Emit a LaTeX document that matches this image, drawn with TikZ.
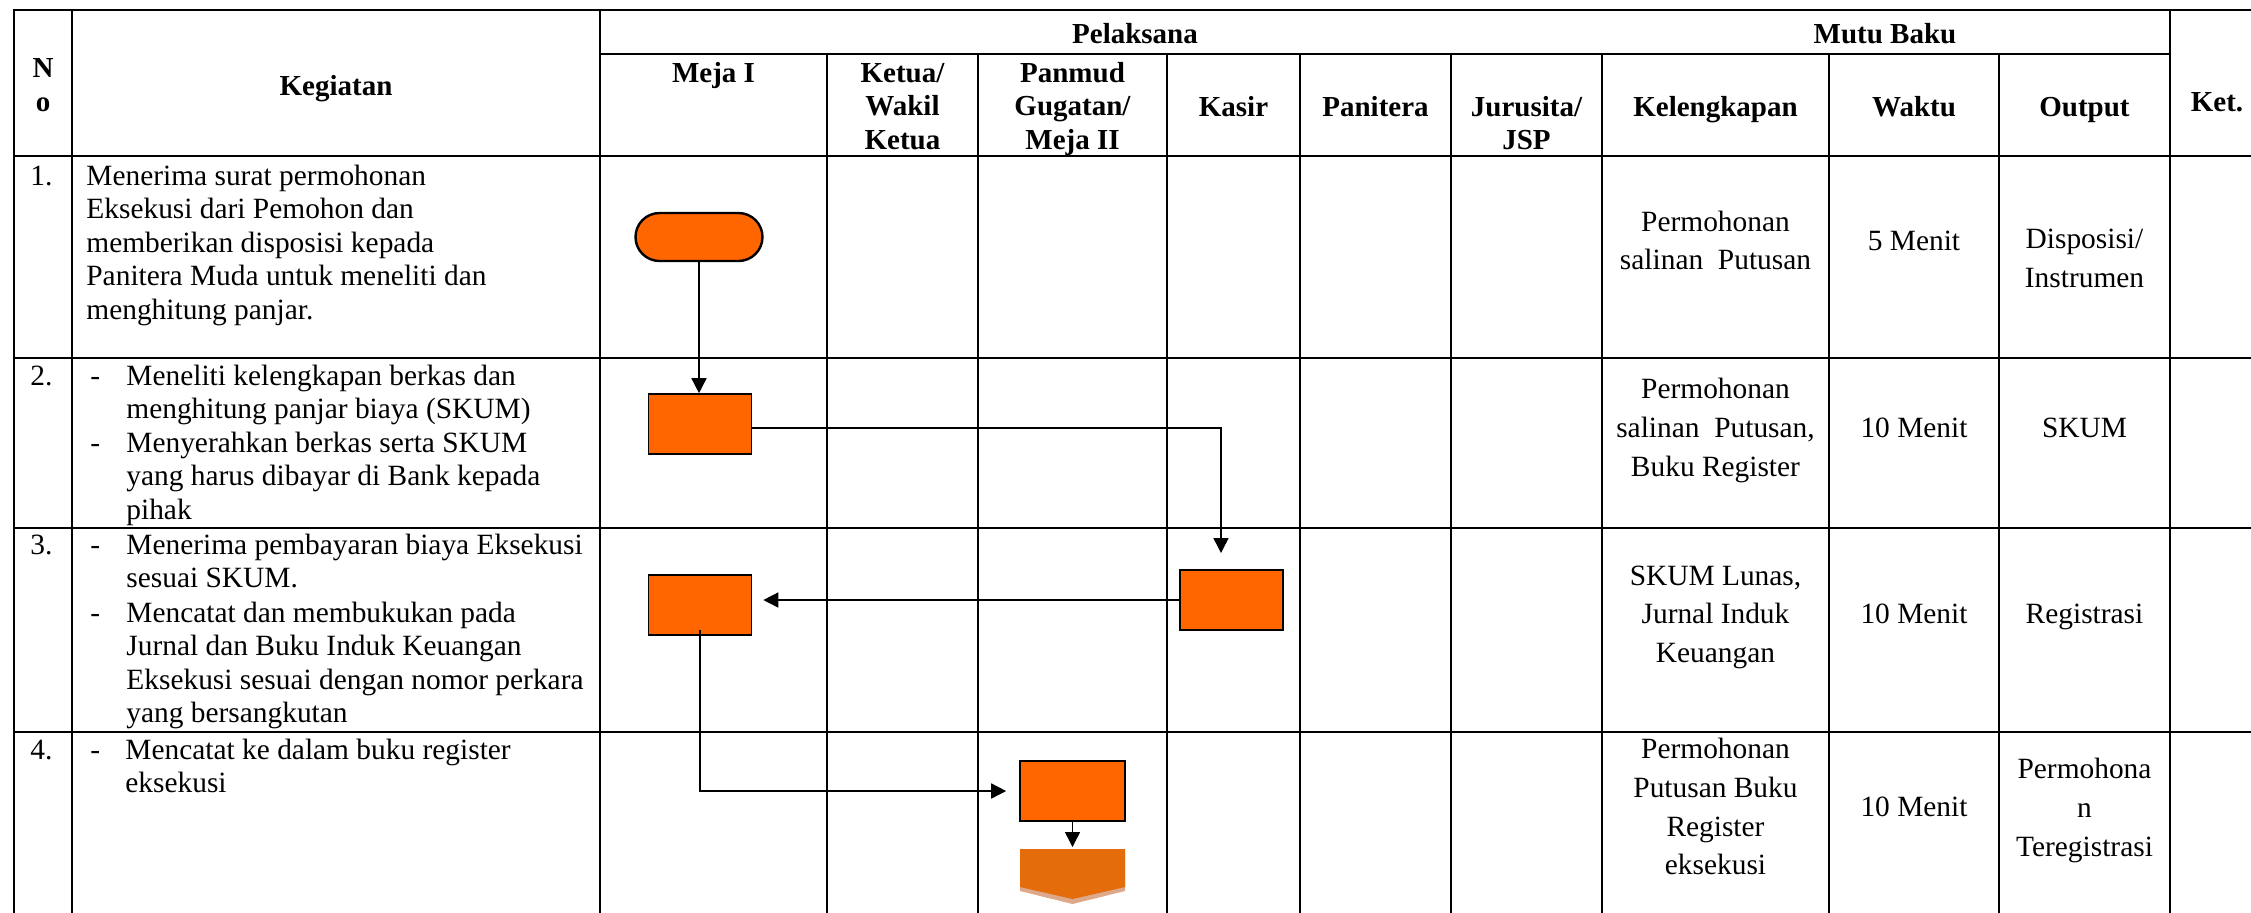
\documentclass[tikz,border=0pt]{standalone}
\usepackage{fontspec}
\setmainfont{Liberation Serif}
\usepackage{xcolor}
\usepackage{tikz}
\usetikzlibrary{arrows.meta}

\definecolor{boxorange}{HTML}{FF6600}
\definecolor{pageorange}{HTML}{E46C0A}
\definecolor{pageshadow}{HTML}{DDA98A}

\begin{document}
\begin{tikzpicture}[
  x=0.5pt,y=-0.5pt,
  grid/.style={line width=1pt,line cap=rect},
  txt/.style={font=\fontsize{14.7}{16.7}\selectfont,inner sep=0pt,anchor=base west,align=left},
  head/.style={font=\bfseries\fontsize{14.5}{16.75}\selectfont,inner sep=0pt,anchor=base,align=center},
  mutu/.style={font=\fontsize{14.7}{19.4}\selectfont,inner sep=0pt,anchor=base,align=center},
  proc/.style={rectangle,draw=black,line width=0.8pt,fill=boxorange,minimum width=51.5pt,minimum height=30pt,inner sep=0pt},
  term/.style={proc,rounded corners=12pt,line width=1.2pt,minimum width=63.5pt,minimum height=24pt},
  flow/.style={-{Triangle[length=7.5pt,width=7.5pt]},line width=0.75pt}
]
  \useasboundingbox (0,0) rectangle (2251,912);

  % Table grid
  \draw[grid] (14,10) -- (2251,10);
  \draw[grid] (600,54) -- (2170,54);
  \draw[grid] (14,156) -- (2251,156) (14,358) -- (2251,358)
              (14,528) -- (2251,528) (14,732) -- (2251,732);
  \draw[grid] (14,10) -- (14,912) (72,10) -- (72,912)
              (600,10) -- (600,912) (2170,10) -- (2170,912);
  \draw[grid] (827,54) -- (827,912) (978,54) -- (978,912)
              (1167,54) -- (1167,912) (1300,54) -- (1300,912)
              (1451,54) -- (1451,912) (1602,54) -- (1602,912)
              (1829,54) -- (1829,912) (1999,54) -- (1999,912);

  % Header (multi-line nodes sit on their last baseline)
  \node[head] (hno) at (43,111) {N\\o};
  \node[head] (hkeg) at (336,95) {Kegiatan};
  \node[head] (hpel) at (1135,43) {Pelaksana};
  \node[head] (hmutu) at (1885,43) {Mutu Baku};
  \node[head] (hmeja) at (713.5,82) {Meja I};
  \node[head] (hketua) at (902.5,149) {Ketua/\\Wakil\\Ketua};
  \node[head] (hpanmud) at (1072.5,149) {Panmud\\Gugatan/\\Meja II};
  \node[head] (hkasir) at (1233.5,116) {Kasir};
  \node[head] (hpanitera) at (1375.5,116) {Panitera};
  \node[head] (hjuru) at (1526.5,149.5) {Jurusita/\\JSP};
  \node[head] (hkel) at (1715.5,116) {Kelengkapan};
  \node[head] (hwaktu) at (1914,116) {Waktu};
  \node[head] (hout) at (2084.5,116) {Output};
  \node[head] (hket) at (2217,111) {Ket.};

  % Kegiatan
  \node[txt] (n1) at (30,185.5) {1.};
  \node[txt] (b1) at (86,319.1) {Menerima surat permohonan\\Eksekusi dari Pemohon dan\\memberikan disposisi kepada\\Panitera Muda untuk meneliti dan\\menghitung panjar.};
  \node[txt] (n2) at (30,385.5) {2.};
  \node[txt] (d2a) at (90,385.5) {-};
  \node[txt] (b2a) at (126,418.9) {Meneliti kelengkapan berkas dan\\menghitung panjar biaya (SKUM)};
  \node[txt] (d2b) at (90,452.5) {-};
  \node[txt] (b2b) at (126,519.3) {Menyerahkan berkas serta SKUM\\yang harus dibayar di Bank kepada\\pihak};
  \node[txt] (n3) at (30,554.5) {3.};
  \node[txt] (d3a) at (90,554.5) {-};
  \node[txt] (b3a) at (126,587.9) {Menerima pembayaran biaya Eksekusi\\sesuai SKUM.};
  \node[txt] (d3b) at (90,622.5) {-};
  \node[txt] (b3b) at (126,722.7) {Mencatat dan membukukan pada\\Jurnal dan Buku Induk Keuangan\\Eksekusi sesuai dengan nomor perkara\\yang bersangkutan};
  \node[txt] (n4) at (30,759.5) {4.};
  \node[txt] (d4) at (90,759.5) {-};
  \node[txt] (b4) at (125,792.9) {Mencatat ke dalam buku register\\eksekusi};

  % Mutu Baku
  \node[mutu] (kel1) at (1715.5,269.8) {Permohonan\\salinan\ \ Putusan};
  \node[mutu] (w1) at (1914,250.5) {5 Menit};
  \node[mutu] (o1) at (2084.5,287) {Disposisi/\\Instrumen};
  \node[mutu] (kel2) at (1715.5,476.1) {Permohonan\\salinan\ \ Putusan,\\Buku Register};
  \node[mutu] (w2) at (1914,437.5) {10 Menit};
  \node[mutu] (o2) at (2084.5,437.5) {SKUM};
  \node[mutu] (kel3) at (1715.5,662.6) {SKUM Lunas,\\Jurnal Induk\\Keuangan};
  \node[mutu] (w3) at (1914,623.5) {10 Menit};
  \node[mutu] (o3) at (2084.5,623.5) {Registrasi};
  \node[mutu] (kel4) at (1715.5,874.9) {Permohonan\\Putusan Buku\\Register\\eksekusi};
  \node[mutu] (w4) at (1914,816.5) {10 Menit};
  \node[mutu] (o4) at (2084.5,856.1) {Permohona\\n\\Teregistrasi};

  % Flow symbols
  \node[term] (t1) at (699,237) {};
  \node[proc] (p2) at (700,424) {};
  \node[proc] (p3) at (700,605) {};
  \node[proc] (k3) at (1231.5,600) {};
  \node[proc,minimum width=52.5pt] (g4) at (1072.5,791) {};
  \coordinate (k3in) at (1221,569);
  \coordinate (op4) at (1072.5,849);
  \fill[pageshadow] (1020,853) -- (1125,853) -- (1125,891) -- (1072.5,904) -- (1020,891) -- cycle;
  \fill[pageorange] (1020,849) -- (1125,849) -- (1125,887) -- (1072.5,899) -- (1020,887) -- cycle;

  % Connectors
  \draw[flow] (t1.south) -- (t1.south |- p2.north);
  \draw[flow,shorten >=8pt] ([yshift=-2pt]p2.east) -| (k3in);
  \draw[flow,shorten >=5.5pt] (k3.west) -- (k3.west -| p3.east);
  \draw[flow,shorten >=6.5pt] ([yshift=3pt]p3.south) |- (g4.west);
  \draw[flow] (g4.south) -- ([yshift=1pt]op4);
\end{tikzpicture}
\end{document}
